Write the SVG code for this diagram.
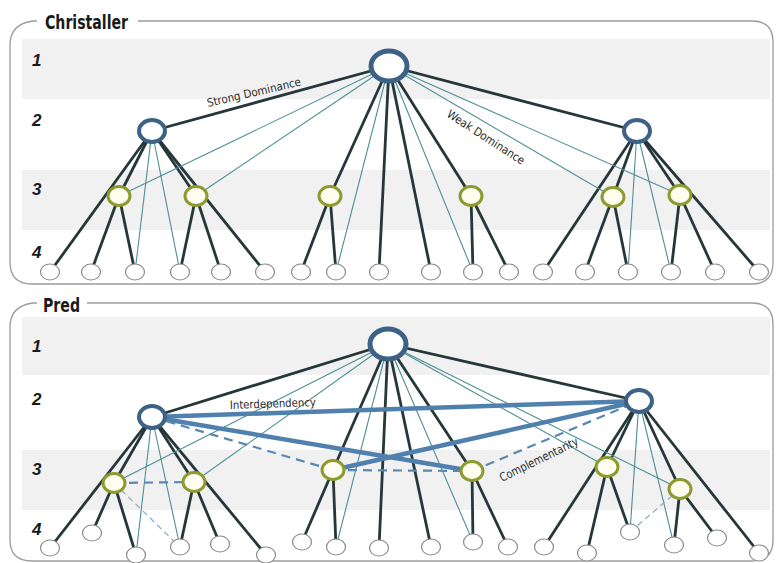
<svg xmlns="http://www.w3.org/2000/svg" width="777" height="563" viewBox="0 0 777 563">
  <defs>
    <style>
      .band { fill: #f1f1f1; }
      .frame { fill: none; stroke: #9c9c9c; stroke-width: 1.3; }
      .title { font-family: "DejaVu Sans", "Liberation Sans", sans-serif; font-weight: bold; font-size: 19px; fill: #1a1a1a; }
      .level { font-family: "Liberation Sans", "DejaVu Sans", sans-serif; font-weight: bold; font-style: italic; font-size: 17px; fill: #1a1a1a; }
      .lbl { font-family: "DejaVu Sans", "Liberation Sans", sans-serif; font-size: 11.5px; fill: #2a2a2a; }
      .thick { stroke: #26373a; stroke-width: 2.8; fill: none; }
      .thin { stroke: #4d8f96; stroke-width: 1.1; fill: none; }
      .blue { stroke: #5080ad; stroke-width: 4.5; fill: none; }
      .dash { stroke: #5a88b0; stroke-width: 2.2; stroke-dasharray: 9 6; fill: none; }
      .dash-lt { stroke: #8fb0c8; stroke-width: 1.3; stroke-dasharray: 6 4; fill: none; }
      .n1 { fill: #ffffff; stroke: #3e6285; stroke-width: 5; }
      .n2 { fill: #ffffff; stroke: #3e6285; stroke-width: 4; }
      .n3 { fill: #fdfdf0; stroke: #8c9a2e; stroke-width: 3; }
      .n4 { fill: #ffffff; stroke: #8a8a8a; stroke-width: 1.2; }
    </style>
  </defs>

  <rect width="777" height="563" fill="#ffffff"/>

  <!-- level bands -->
  <rect class="band" x="22" y="39" width="748" height="60"/>
  <rect class="band" x="22" y="170" width="748" height="60"/>
  <rect class="band" x="22" y="317" width="748" height="58"/>
  <rect class="band" x="22" y="450" width="748" height="60"/>

  <!-- panel frames with title gaps -->
  <path class="frame" d="M37,21 L33,21 Q10,24 10,45 L10,262 Q10,284 32,284 L752,284 Q773,284 773,262 L773,42 Q773,21 752,21 L138,21"/>
  <path class="frame" d="M37,303 L33,303 Q10,306 10,327 L10,540 Q10,561 32,561 L752,561 Q773,561 773,540 L773,324 Q773,303 752,303 L87,303"/>

  <text class="title" x="45" y="29" textLength="83" lengthAdjust="spacingAndGlyphs">Christaller</text>
  <text class="title" x="43" y="312" textLength="37" lengthAdjust="spacingAndGlyphs">Pred</text>

  <!-- level numbers -->
  <g id="levels">
    <text class="level" x="32" y="66">1</text>
    <text class="level" x="32" y="126">2</text>
    <text class="level" x="32" y="195">3</text>
    <text class="level" x="32" y="258">4</text>
    <text class="level" x="32" y="352">1</text>
    <text class="level" x="32" y="405">2</text>
    <text class="level" x="32" y="475">3</text>
    <text class="level" x="32" y="535">4</text>
  </g>

  <g id="connectors">
    <!-- Christaller: strong dominance -->
    <g class="thick">
      <line x1="389" y1="66" x2="152" y2="131"/>
      <line x1="389" y1="66" x2="637" y2="131"/>
      <line x1="389" y1="66" x2="330" y2="196"/>
      <line x1="389" y1="66" x2="471" y2="196"/>
      <line x1="389" y1="66" x2="379" y2="272"/>
      <line x1="389" y1="66" x2="431" y2="272"/>
      <line x1="152" y1="131" x2="50" y2="272"/>
      <line x1="152" y1="131" x2="119" y2="196"/>
      <line x1="152" y1="131" x2="196" y2="196"/>
      <line x1="152" y1="131" x2="265" y2="272"/>
      <line x1="119" y1="196" x2="91" y2="272"/>
      <line x1="119" y1="196" x2="135" y2="272"/>
      <line x1="196" y1="196" x2="180" y2="272"/>
      <line x1="196" y1="196" x2="221" y2="272"/>
      <line x1="330" y1="196" x2="301" y2="272"/>
      <line x1="330" y1="196" x2="336" y2="272"/>
      <line x1="471" y1="196" x2="473" y2="272"/>
      <line x1="471" y1="196" x2="509" y2="272"/>
      <line x1="637" y1="131" x2="543" y2="272"/>
      <line x1="637" y1="131" x2="613" y2="197"/>
      <line x1="637" y1="131" x2="680" y2="195"/>
      <line x1="637" y1="131" x2="759" y2="272"/>
      <line x1="613" y1="197" x2="585" y2="272"/>
      <line x1="613" y1="197" x2="628" y2="272"/>
      <line x1="680" y1="195" x2="671" y2="272"/>
      <line x1="680" y1="195" x2="715" y2="272"/>
    </g>
    <!-- Christaller: weak dominance -->
    <g class="thin">
      <line x1="389" y1="66" x2="119" y2="196"/>
      <line x1="389" y1="66" x2="196" y2="196"/>
      <line x1="389" y1="66" x2="613" y2="197"/>
      <line x1="389" y1="66" x2="680" y2="195"/>
      <line x1="389" y1="66" x2="336" y2="272"/>
      <line x1="389" y1="66" x2="473" y2="272"/>
      <line x1="152" y1="131" x2="135" y2="272"/>
      <line x1="152" y1="131" x2="180" y2="272"/>
      <line x1="637" y1="131" x2="628" y2="272"/>
      <line x1="637" y1="131" x2="671" y2="272"/>
    </g>

    <!-- Pred: hierarchy -->
    <g class="thick">
      <line x1="388" y1="344" x2="152" y2="417"/>
      <line x1="388" y1="344" x2="639" y2="401"/>
      <line x1="388" y1="344" x2="333" y2="470"/>
      <line x1="388" y1="344" x2="472" y2="471"/>
      <line x1="388" y1="344" x2="379" y2="548"/>
      <line x1="388" y1="344" x2="431" y2="547"/>
      <line x1="152" y1="417" x2="50" y2="548"/>
      <line x1="152" y1="417" x2="114" y2="483"/>
      <line x1="152" y1="417" x2="194" y2="482"/>
      <line x1="152" y1="417" x2="266" y2="555"/>
      <line x1="114" y1="483" x2="92" y2="533"/>
      <line x1="114" y1="483" x2="136" y2="555"/>
      <line x1="194" y1="482" x2="180" y2="547"/>
      <line x1="194" y1="482" x2="220" y2="544"/>
      <line x1="333" y1="470" x2="302" y2="542"/>
      <line x1="333" y1="470" x2="336" y2="547"/>
      <line x1="472" y1="471" x2="473" y2="542"/>
      <line x1="472" y1="471" x2="508" y2="547"/>
      <line x1="639" y1="401" x2="544" y2="547"/>
      <line x1="639" y1="401" x2="607" y2="467"/>
      <line x1="639" y1="401" x2="680" y2="489"/>
      <line x1="639" y1="401" x2="759" y2="553"/>
      <line x1="607" y1="467" x2="587" y2="553"/>
      <line x1="607" y1="467" x2="630" y2="532"/>
      <line x1="680" y1="489" x2="674" y2="545"/>
      <line x1="680" y1="489" x2="717" y2="538"/>
    </g>
    <g class="thin">
      <line x1="388" y1="344" x2="114" y2="483"/>
      <line x1="388" y1="344" x2="194" y2="482"/>
      <line x1="388" y1="344" x2="607" y2="467"/>
      <line x1="388" y1="344" x2="680" y2="489"/>
      <line x1="388" y1="344" x2="336" y2="547"/>
      <line x1="388" y1="344" x2="473" y2="542"/>
      <line x1="152" y1="417" x2="136" y2="555"/>
      <line x1="152" y1="417" x2="180" y2="547"/>
      <line x1="639" y1="401" x2="630" y2="532"/>
      <line x1="639" y1="401" x2="674" y2="545"/>
    </g>
    <!-- Pred: interdependency -->
    <g class="blue">
      <line x1="152" y1="417" x2="639" y2="401"/>
      <line x1="152" y1="417" x2="472" y2="471"/>
      <line x1="639" y1="401" x2="333" y2="470"/>
    </g>
    <!-- Pred: complementarity -->
    <g class="dash">
      <line x1="152" y1="417" x2="333" y2="470"/>
      <line x1="333" y1="470" x2="472" y2="471"/>
      <line x1="472" y1="471" x2="639" y2="401"/>
      <line x1="114" y1="483" x2="194" y2="482"/>
    </g>
    <g class="dash-lt">
      <line x1="114" y1="483" x2="180" y2="547"/>
      <line x1="680" y1="489" x2="630" y2="532"/>
    </g>
  </g>

  <!-- Christaller nodes -->
  <g id="c-l1"><ellipse class="n1" cx="389" cy="66" rx="18" ry="15"/></g>
  <g id="c-l2a"><ellipse class="n2" cx="152" cy="131" rx="13" ry="11"/></g>
  <g id="c-l2b"><ellipse class="n2" cx="637" cy="131" rx="13" ry="11"/></g>
  <g id="c-l3">
    <ellipse class="n3" cx="119" cy="196" rx="11" ry="9.5"/>
    <ellipse class="n3" cx="196" cy="196" rx="11" ry="9.5"/>
    <ellipse class="n3" cx="330" cy="196" rx="11" ry="9.5"/>
    <ellipse class="n3" cx="471" cy="196" rx="11" ry="9.5"/>
    <ellipse class="n3" cx="613" cy="197" rx="11" ry="9.5"/>
    <ellipse class="n3" cx="680" cy="195" rx="11" ry="9.5"/>
  </g>
  <g id="c-l4">
    <ellipse class="n4" cx="50" cy="272" rx="9.5" ry="8"/>
    <ellipse class="n4" cx="91" cy="272" rx="9.5" ry="8"/>
    <ellipse class="n4" cx="135" cy="272" rx="9.5" ry="8"/>
    <ellipse class="n4" cx="180" cy="272" rx="9.5" ry="8"/>
    <ellipse class="n4" cx="221" cy="272" rx="9.5" ry="8"/>
    <ellipse class="n4" cx="265" cy="272" rx="9.5" ry="8"/>
    <ellipse class="n4" cx="301" cy="272" rx="9.5" ry="8"/>
    <ellipse class="n4" cx="336" cy="272" rx="9.5" ry="8"/>
    <ellipse class="n4" cx="379" cy="272" rx="9.5" ry="8"/>
    <ellipse class="n4" cx="431" cy="272" rx="9.5" ry="8"/>
    <ellipse class="n4" cx="473" cy="272" rx="9.5" ry="8"/>
    <ellipse class="n4" cx="509" cy="272" rx="9.5" ry="8"/>
    <ellipse class="n4" cx="543" cy="272" rx="9.5" ry="8"/>
    <ellipse class="n4" cx="585" cy="272" rx="9.5" ry="8"/>
    <ellipse class="n4" cx="628" cy="272" rx="9.5" ry="8"/>
    <ellipse class="n4" cx="671" cy="272" rx="9.5" ry="8"/>
    <ellipse class="n4" cx="715" cy="272" rx="9.5" ry="8"/>
    <ellipse class="n4" cx="759" cy="272" rx="9.5" ry="8"/>
  </g>

  <!-- Pred nodes -->
  <g id="p-l1"><ellipse class="n1" cx="388" cy="344" rx="18" ry="15"/></g>
  <g id="p-l2a"><ellipse class="n2" cx="152" cy="417" rx="13" ry="11"/></g>
  <g id="p-l2b"><ellipse class="n2" cx="639" cy="401" rx="13" ry="11"/></g>
  <g id="p-l3">
    <ellipse class="n3" cx="114" cy="483" rx="11" ry="9.5"/>
    <ellipse class="n3" cx="194" cy="482" rx="11" ry="9.5"/>
    <ellipse class="n3" cx="333" cy="470" rx="11" ry="9.5"/>
    <ellipse class="n3" cx="472" cy="471" rx="11" ry="9.5"/>
    <ellipse class="n3" cx="607" cy="467" rx="11" ry="9.5"/>
    <ellipse class="n3" cx="680" cy="489" rx="11" ry="9.5"/>
  </g>
  <g id="p-l4">
    <ellipse class="n4" cx="50" cy="548" rx="9.5" ry="8"/>
    <ellipse class="n4" cx="92" cy="533" rx="9.5" ry="8"/>
    <ellipse class="n4" cx="136" cy="555" rx="9.5" ry="8"/>
    <ellipse class="n4" cx="180" cy="547" rx="9.5" ry="8"/>
    <ellipse class="n4" cx="220" cy="544" rx="9.5" ry="8"/>
    <ellipse class="n4" cx="266" cy="555" rx="9.5" ry="8"/>
    <ellipse class="n4" cx="302" cy="542" rx="9.5" ry="8"/>
    <ellipse class="n4" cx="336" cy="547" rx="9.5" ry="8"/>
    <ellipse class="n4" cx="379" cy="548" rx="9.5" ry="8"/>
    <ellipse class="n4" cx="431" cy="547" rx="9.5" ry="8"/>
    <ellipse class="n4" cx="473" cy="542" rx="9.5" ry="8"/>
    <ellipse class="n4" cx="508" cy="547" rx="9.5" ry="8"/>
    <ellipse class="n4" cx="544" cy="547" rx="9.5" ry="8"/>
    <ellipse class="n4" cx="587" cy="553" rx="9.5" ry="8"/>
    <ellipse class="n4" cx="630" cy="532" rx="9.5" ry="8"/>
    <ellipse class="n4" cx="674" cy="545" rx="9.5" ry="8"/>
    <ellipse class="n4" cx="717" cy="538" rx="9.5" ry="8"/>
    <ellipse class="n4" cx="759" cy="553" rx="9.5" ry="8"/>
  </g>

  <!-- connector labels -->
  <text class="lbl" transform="translate(208,107) rotate(-13)" textLength="96" lengthAdjust="spacingAndGlyphs">Strong Dominance</text>
  <text class="lbl" transform="translate(446,116) rotate(33)" textLength="90" lengthAdjust="spacingAndGlyphs">Weak Dominance</text>
  <text class="lbl" transform="translate(230,409) rotate(-2)" textLength="86" lengthAdjust="spacingAndGlyphs">Interdependency</text>
  <text class="lbl" style="font-size:12px" transform="translate(502,482) rotate(-26)" textLength="86" lengthAdjust="spacingAndGlyphs">Complementarity</text>
</svg>
